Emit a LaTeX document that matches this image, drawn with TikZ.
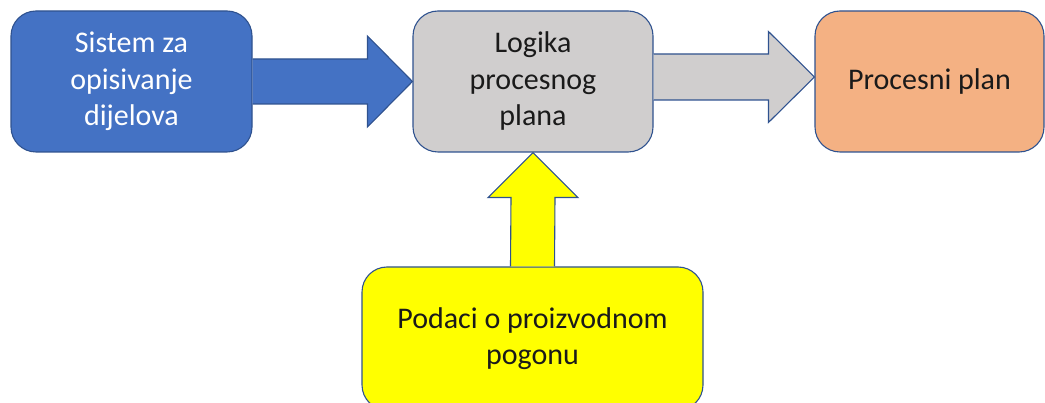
\documentclass[tikz,border=0pt]{standalone}
\usepackage{fontspec}
\setmainfont{Carlito}
\usetikzlibrary{calc}
\definecolor{boxblue}{HTML}{4472C4}
\definecolor{edge}{HTML}{2F528F}
\definecolor{boxgray}{HTML}{D0CECE}
\definecolor{boxorange}{HTML}{F4B183}
\definecolor{boxyellow}{HTML}{FFFF00}
\definecolor{txt}{HTML}{1A1A1A}
\begin{document}
\begin{tikzpicture}[x=1pt,y=-1pt,
  box/.style={draw=edge, line width=1.1pt, rounded corners=25pt, align=center,
    font=\fontsize{30}{36.5}\selectfont, inner sep=0pt, text=txt},
  blockarrow/.style={draw=edge, line width=1.1pt, line join=miter}]
\useasboundingbox (0,0) rectangle (1045,403);
\clip (0,0) rectangle (1045,403);

\node[box, fill=boxblue, text=white, minimum width=241pt, minimum height=141pt] (s) at (131.5,81.5) {Sistem za\\opisivanje\\dijelova};
\node[box, fill=boxgray, minimum width=240pt, minimum height=141pt] (l) at (533,81.5) {Logika\\procesnog\\plana};
\node[box, fill=boxorange, minimum width=229pt, minimum height=141pt] (p) at (929.5,81.5) {Procesni plan};
\node[box, fill=boxyellow, minimum width=341pt, minimum height=143pt] (y) at (532.5,338.5) {Podaci o proizvodnom\\pogonu};

% arrow 1: s -> l
\draw[blockarrow, fill=boxblue]
  ($(s.east)+(0,-22.5)$) -- ($(l.west)+(-45,-22.5)$) -- ($(l.west)+(-45,-45.5)$)
  -- (l.west) -- ($(l.west)+(-45,45.5)$) -- ($(l.west)+(-45,22.5)$)
  -- ($(s.east)+(0,22.5)$);

% arrow 2: l -> p
\coordinate (a2s) at ($(l.east)+(0,-4.5)$);
\coordinate (a2t) at ($(p.west)+(0,-4.5)$);
\draw[blockarrow, fill=boxgray]
  ($(a2s)+(0,-23)$) -- ($(a2t)+(-46,-23)$) -- ($(a2t)+(-46,-45.5)$)
  -- (a2t) -- ($(a2t)+(-46,45.5)$) -- ($(a2t)+(-46,23)$)
  -- ($(a2s)+(0,23)$);

% arrow 3: y -> l
\draw[blockarrow, fill=boxyellow]
  ($(y.north)+(-22,0)$) -- ($(l.south)+(-22,45)$) -- ($(l.south)+(-45,45)$)
  -- (l.south) -- ($(l.south)+(45,45)$) -- ($(l.south)+(22,45)$)
  -- ($(y.north)+(22,0)$);
\end{tikzpicture}
\end{document}
